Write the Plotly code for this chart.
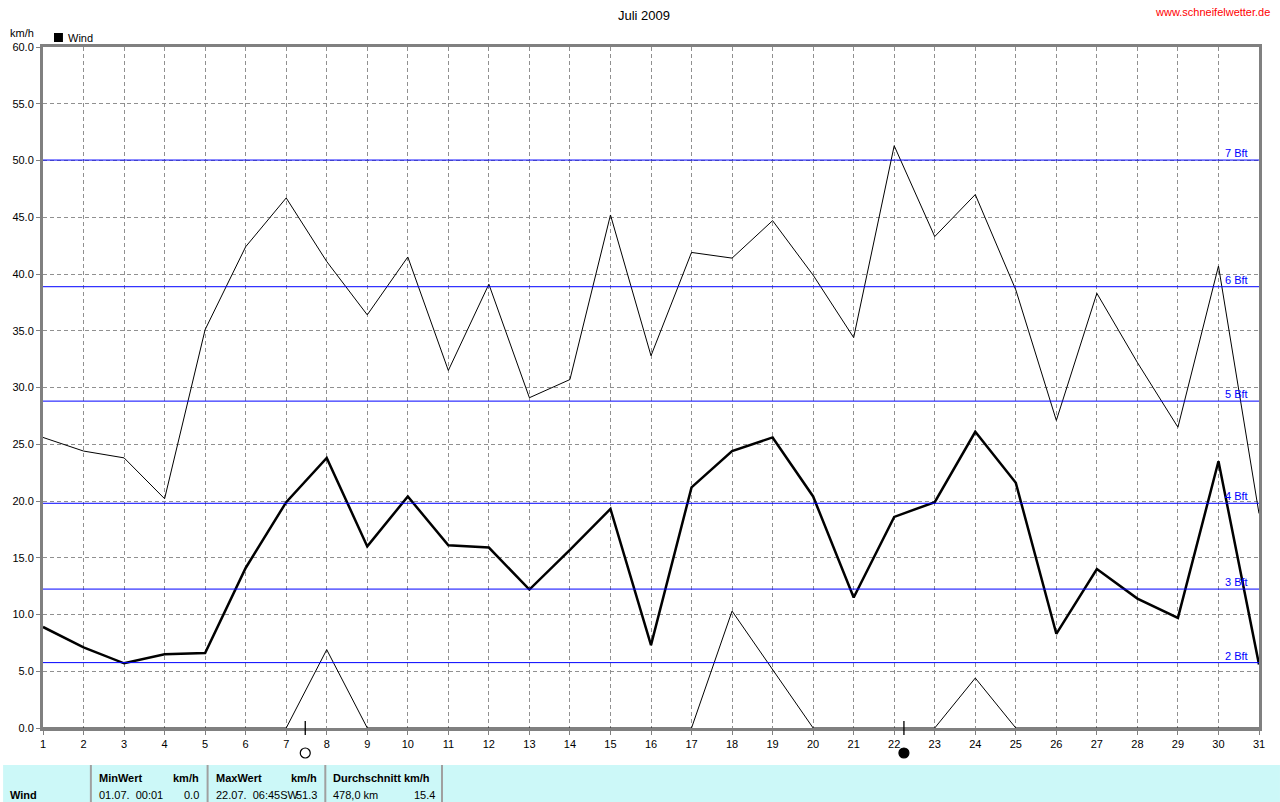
import plotly.graph_objects as go

days = list(range(1, 32))
wind_max = [25.6, 24.4, 23.8, 20.2, 35.1, 42.4, 46.7, 41.1, 36.4, 41.5, 31.5, 39.1, 29.1, 30.7, 45.2,
            32.8, 41.9, 41.4, 44.7, 39.9, 34.4, 51.3, 43.3, 47.0, 38.6, 27.1, 38.3, 32.2, 26.5, 40.7, 18.9]
wind_avg = [8.9, 7.1, 5.7, 6.5, 6.6, 14.1, 19.9, 23.8, 16.0, 20.4, 16.1, 15.9, 12.2, 15.7, 19.3,
            7.3, 21.2, 24.4, 25.6, 20.4, 11.5, 18.6, 19.9, 26.1, 21.6, 8.3, 14.0, 11.4, 9.7, 23.5, 5.6]
wind_min = [0, 0, 0, 0, 0, 0, 0, 6.9, 0, 0, 0, 0, 0, 0, 0,
            0, 0, 10.3, 5.1, 0, 0, 0, 0, 4.4, 0, 0, 0, 0, 0, 0, 0]

bft_levels = [5.76, 12.24, 19.8, 28.8, 38.88, 50.04]
bft_labels = ["2 Bft", "3 Bft", "4 Bft", "5 Bft", "6 Bft", "7 Bft"]

moon_days = [7.47, 22.24]
moon_fill = ["white", "black"]

title = "Juli 2009"
site = "www.schneifelwetter.de"
y_ticks = [i * 5 for i in range(13)]

W, H = 1280, 802
L, R, T, B = 40, 1259, 47, 728
FONT = "Liberation Sans"


def px(x):
    return (x - L) / (R - L)


def py(y):
    return (B - y) / (B - T)


fig = go.Figure()
fig.add_trace(go.Scatter(x=days, y=wind_min, mode="lines", line=dict(color="black", width=1),
                         showlegend=False, hoverinfo="skip"))
fig.add_trace(go.Scatter(x=days, y=wind_max, mode="lines", line=dict(color="black", width=1),
                         showlegend=False, hoverinfo="skip"))
fig.add_trace(go.Scatter(x=days, y=wind_avg, mode="lines", line=dict(color="black", width=2.5),
                         showlegend=False, name="Wind"))

shapes = []
for lv in bft_levels:
    shapes.append(dict(type="line", xref="paper", yref="y", x0=0, x1=1, y0=lv, y1=lv,
                       line=dict(color="#0000FF", width=1), layer="above"))
for d, fc in zip(moon_days, moon_fill):
    shapes.append(dict(type="line", xref="x", yref="paper", x0=d, x1=d, y0=py(735), y1=py(721),
                       line=dict(color="black", width=1.3), layer="above"))
    shapes.append(dict(type="circle", xref="x", yref="paper", xsizemode="pixel", ysizemode="pixel",
                       xanchor=d, yanchor=py(753), x0=-5, x1=5, y0=-5, y1=5,
                       fillcolor=fc, line=dict(color="black", width=1.2), layer="above"))

# bottom table band
shapes.append(dict(type="rect", xref="paper", yref="paper", x0=px(0), x1=px(1280), y0=py(765), y1=py(802),
                   fillcolor="#CCF8F8", line=dict(width=0), layer="below"))
for sx in [88, 205, 323, 440]:
    shapes.append(dict(type="line", xref="paper", yref="paper", x0=px(sx), x1=px(sx), y0=py(765), y1=py(802),
                       line=dict(color="#A0A0A0", width=2)))
# legend square
shapes.append(dict(type="rect", xref="paper", yref="paper", x0=px(51), x1=px(60), y0=py(42), y1=py(33),
                   fillcolor="black", line=dict(width=0)))

annotations = []
for lv, lb in zip(bft_levels, bft_labels):
    annotations.append(dict(x=px(1236), y=lv, xref="paper", yref="y", text=lb, showarrow=False,
                            yanchor="bottom", xanchor="center", yshift=-1,
                            font=dict(family=FONT, size=11, color="#0000FF")))

def txt(x, y, s, anchor="left", bold=False, color="black", size=11):
    annotations.append(dict(x=px(x), y=py(y), xref="paper", yref="paper",
                            text=("<b>%s</b>" % s) if bold else s, showarrow=False,
                            xanchor=anchor, yanchor="middle",
                            font=dict(family=FONT, size=size, color=color)))

txt(642, 15, title, anchor="center", size=13)
txt(1272, 12, site, anchor="right", color="#FF0000")
txt(5, 33, "km/h")
txt(63, 38, "Wind")

txt(5, 795, "Wind", bold=True)
txt(94, 778, "MinWert", bold=True)
txt(198, 778, "km/h", anchor="right", bold=True)
txt(94, 795, "01.07.&nbsp;&nbsp;00:01")
txt(198, 795, "0.0", anchor="right")
txt(211, 778, "MaxWert", bold=True)
txt(317, 778, "km/h", anchor="right", bold=True)
txt(211, 795, "22.07.&nbsp;&nbsp;06:45SW")
txt(317, 795, "51.3", anchor="right")
txt(329, 778, "Durchschnitt km/h", bold=True)
txt(329, 795, "478,0 km")
txt(435, 795, "15.4", anchor="right")

axis_common = dict(showgrid=True, gridcolor="#909090", griddash="4px,3px", gridwidth=1,
                   showline=True, linecolor="#808080", linewidth=3, mirror=True,
                   ticks="outside", ticklen=4, tickcolor="#808080", zeroline=False,
                   tickfont=dict(family=FONT, size=11))

fig.update_layout(
    width=W, height=H,
    margin=dict(l=L, r=W - R, t=T, b=H - B, pad=0),
    paper_bgcolor="white", plot_bgcolor="white",
    font=dict(family=FONT, size=11, color="black"),
    shapes=shapes, annotations=annotations, showlegend=False,
    xaxis=dict(range=[1, 31], tickmode="array", tickvals=days, ticktext=[str(d) for d in days],
               **axis_common),
    yaxis=dict(range=[0, 60], tickmode="array", tickvals=y_ticks, ticktext=["%.1f" % v for v in y_ticks],
               **axis_common),
)

fig.write_html("out.html", config={"displayModeBar": False},
               post_script="document.body.style.margin='0';")
